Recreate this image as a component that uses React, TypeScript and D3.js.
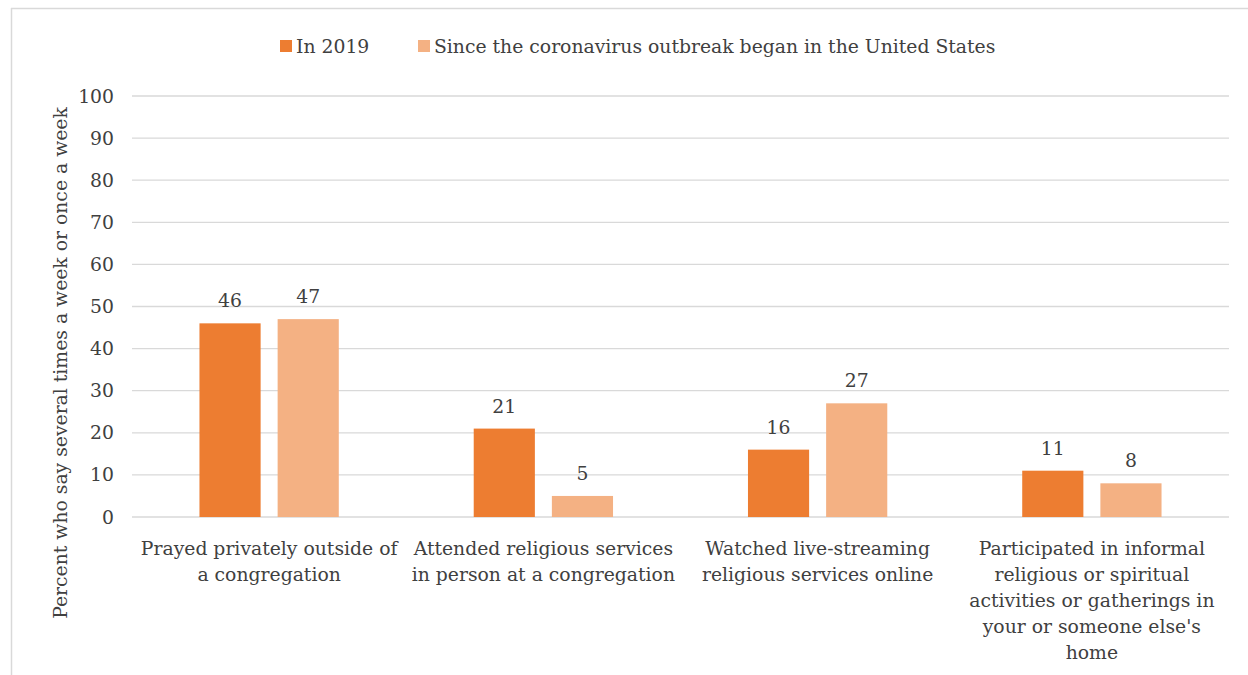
import React from "react";
import * as d3 from "d3";

const categories: string[][] = [
  ["Prayed privately outside of", "a congregation"],
  ["Attended religious services", "in person at a congregation"],
  ["Watched live-streaming", "religious services online"],
  ["Participated in informal", "religious or spiritual", "activities or gatherings in", "your or someone else's", "home"],
];
const series2019: number[] = [46, 21, 16, 11];
const seriesSince: number[] = [47, 5, 27, 8];
const seriesNames: string[] = ["In 2019", "Since the coronavirus outbreak began in the United States"];
const yTicks: number[] = [0, 10, 20, 30, 40, 50, 60, 70, 80, 90, 100];
const yTitle = "Percent who say several times a week or once a week";

const W = 1248, H = 675;
const colors = ["#ED7D31", "#F4B183"];
const FONT = "'DejaVu Serif', serif";
const FS = 18.8;
const textColor = "#404040";

export default function App() {
  const left = 132, right = 1229, top = 96, bottom = 517;
  const x = d3.scaleBand<number>().domain(d3.range(categories.length)).range([left, right]);
  const y = d3.scaleLinear().domain([0, 100]).range([bottom, top]);
  const barW = x.bandwidth() * 0.223;
  const gap = 17;
  const data = [series2019, seriesSince];
  return (
    <svg width={W} height={H} style={{ position: "absolute", left: 0, top: 0, background: "#fff" }}>
      <line x1={11} x2={W} y1={8.5} y2={8.5} stroke="#d9d9d9" strokeWidth={1.5} />
      <line x1={11.5} x2={11.5} y1={8} y2={H} stroke="#d9d9d9" strokeWidth={1.5} />
      {yTicks.map((t) => (
        <g key={t}>
          <line x1={left} x2={right} y1={y(t)} y2={y(t)} stroke="#d9d9d9" strokeWidth={1.3} />
          <text x={114} y={y(t)} dy="0.35em" textAnchor="end" fontFamily={FONT} fontSize={FS} fill={textColor}>{t}</text>
        </g>
      ))}
      {data.map((s, si) =>
        s.map((v, i) => {
          const cx = x(i)! + x.bandwidth() / 2;
          const bx = si === 0 ? cx - gap / 2 - barW : cx + gap / 2;
          return (
            <g key={`${si}-${i}`}>
              <rect x={bx} y={y(v)} width={barW} height={y(0) - y(v)} fill={colors[si]} />
              <text x={bx + barW / 2} y={y(v) - 16} textAnchor="middle" fontFamily={FONT} fontSize={FS} fill={textColor}>{v}</text>
            </g>
          );
        })
      )}
      {categories.map((lines, i) => (
        <text key={i} textAnchor="middle" fontFamily={FONT} fontSize={FS} fill={textColor}>
          {lines.map((l, j) => (
            <tspan key={j} x={x(i)! + x.bandwidth() / 2} y={555 + j * 26}>{l}</tspan>
          ))}
        </text>
      ))}
      <text transform={`translate(67,363) rotate(-90)`} textAnchor="middle" fontFamily={FONT} fontSize={FS} fill={textColor}>{yTitle}</text>
      <rect x={280} y={40} width={12} height={12} fill={colors[0]} />
      <text x={296} y={46} dy="0.35em" fontFamily={FONT} fontSize={FS} fill={textColor}>{seriesNames[0]}</text>
      <rect x={418} y={40} width={12} height={12} fill={colors[1]} />
      <text x={434} y={46} dy="0.35em" fontFamily={FONT} fontSize={FS} fill={textColor}>{seriesNames[1]}</text>
    </svg>
  );
}
